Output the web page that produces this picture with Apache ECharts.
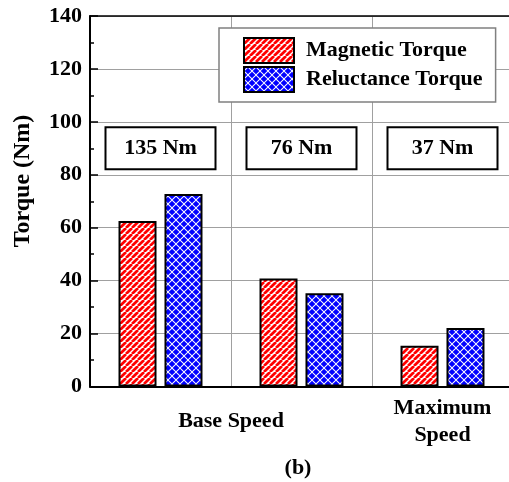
<!DOCTYPE html>
<html>
<head>
<meta charset="utf-8">
<script src="https://cdn.jsdelivr.net/npm/echarts@6/dist/echarts.min.js"></script>
<style>
html,body{margin:0;padding:0;background:#fff;}
#chart{width:509px;height:482px;}
</style>
</head>
<body>
<div id="chart"></div>
<script>
// ---- data ----
var categories = ['135 Nm', '76 Nm', '37 Nm'];
var magneticTorque = [62.5, 40.8, 15.4];
var reluctanceTorque = [72.7, 35.2, 22.1];
var seriesNames = ['Magnetic Torque', 'Reluctance Torque'];
var groupLabels = ['Base Speed', 'Maximum\nSpeed'];
var yTicks = [0, 20, 40, 60, 80, 100, 120, 140];
var axisTitle = 'Torque (Nm)';
var panelLabel = '(b)';

// ---- layout / styling ----
var FONT = 'Liberation Serif';
var groupSlotIndex = [2, 5]; // half-category slots on the label axis
var groupSlots = ['', '', '', '', '', '', ''];
groupLabels.forEach(function (g, i) { groupSlots[groupSlotIndex[i]] = g; });

function stripePattern() {
  var s = 6;
  var c = document.createElement('canvas');
  c.width = s; c.height = s;
  var ctx = c.getContext('2d');
  ctx.fillStyle = '#ffffff';
  ctx.fillRect(0, 0, s, s);
  ctx.strokeStyle = '#ff0000';
  ctx.lineWidth = 2.7;
  for (var k = -1; k <= 1; k++) {
    ctx.beginPath();
    ctx.moveTo(k * s, s);
    ctx.lineTo(k * s + s, 0);
    ctx.stroke();
  }
  return c;
}
function diamondPattern() {
  var s = 8, r = 3.3;
  var c = document.createElement('canvas');
  c.width = s; c.height = s;
  var ctx = c.getContext('2d');
  ctx.fillStyle = '#ffffff';
  ctx.fillRect(0, 0, s, s);
  ctx.fillStyle = '#0000ff';
  var centers = [[s / 2, s / 2], [0, 0], [s, 0], [0, s], [s, s]];
  centers.forEach(function (p) {
    ctx.beginPath();
    ctx.moveTo(p[0], p[1] - r);
    ctx.lineTo(p[0] + r, p[1]);
    ctx.lineTo(p[0], p[1] + r);
    ctx.lineTo(p[0] - r, p[1]);
    ctx.closePath();
    ctx.fill();
  });
  return c;
}

var chart = echarts.init(document.getElementById('chart'), null, {renderer: 'canvas'});

var option = {
  animation: false,
  backgroundColor: '#fff',
  grid: {left: 90, top: 16, width: 423, height: 370.5, outerBoundsMode: 'none', containLabel: false},
  legend: {
    data: seriesNames,
    orient: 'vertical',
    left: 219, top: 28,
    icon: 'rect',
    itemWidth: 50, itemHeight: 25, itemGap: 2,
    padding: [9, 13, 9, 24],
    backgroundColor: '#fff',
    borderColor: '#808080', borderWidth: 1.5, borderRadius: 0,
    textStyle: {fontFamily: FONT, fontWeight: 'bold', fontSize: 22, color: '#000', padding: [0, 0, 0, 7]},
    selectedMode: false
  },
  xAxis: [
    {
      type: 'category', data: categories, position: 'bottom',
      axisLine: {show: true, lineStyle: {color: '#000', width: 2}},
      axisTick: {show: false},
      axisLabel: {show: false},
      splitLine: {show: true, lineStyle: {color: '#a0a0a0', width: 1}}
    },
    {
      type: 'category', data: groupSlots, position: 'bottom', boundaryGap: false,
      axisLine: {show: false}, axisTick: {show: false},
      axisLabel: {show: true, interval: 0, margin: 35, verticalAlign: 'middle', lineHeight: 27,
        hideOverlap: false,
        fontFamily: FONT, fontWeight: 'bold', fontSize: 22, color: '#000'},
      splitLine: {show: false}
    },
    {
      type: 'category', data: categories, position: 'top',
      axisLine: {show: true, onZero: false, lineStyle: {color: '#000', width: 1.5}},
      axisTick: {show: false}, axisLabel: {show: false}, splitLine: {show: false}
    }
  ],
  yAxis: {
    type: 'value', min: yTicks[0], max: yTicks[yTicks.length - 1], interval: yTicks[1] - yTicks[0],
    axisLine: {show: true, lineStyle: {color: '#000', width: 2}},
    axisTick: {show: true, inside: true, length: 8, lineStyle: {color: '#000', width: 1.5}},
    minorTick: {show: true, splitNumber: 2, length: 4, lineStyle: {color: '#000', width: 1.5}},
    axisLabel: {margin: 8, fontFamily: FONT, fontWeight: 'bold', fontSize: 22, color: '#000'},
    splitLine: {show: true, lineStyle: {color: '#a0a0a0', width: 1}}
  },
  series: [
    {
      name: seriesNames[0], type: 'bar', data: magneticTorque,
      barWidth: 38, barGap: '21%',
      itemStyle: {color: {image: stripePattern(), repeat: 'repeat'}, borderColor: '#000', borderWidth: 2}
    },
    {
      name: seriesNames[1], type: 'bar', data: reluctanceTorque,
      barWidth: 38, barGap: '21%',
      itemStyle: {color: {image: diamondPattern(), repeat: 'repeat'}, borderColor: '#000', borderWidth: 2}
    },
    {
      name: 'labels', type: 'scatter', symbolSize: 0, silent: true,
      itemStyle: {color: '#000', opacity: 1},
      data: categories.map(function (c) { return [c, 90]; }),
      z: 5,
      label: {
        show: true, position: 'inside',
        formatter: function (p) { return p.value[0]; },
        fontFamily: FONT, fontWeight: 'bold', fontSize: 22, color: '#000', opacity: 1,
        textBorderWidth: 0,
        backgroundColor: '#fff', borderColor: '#000', borderWidth: 2,
        width: 108, height: 40, lineHeight: 40, align: 'center', verticalAlign: 'middle'
      }
    }
  ],
  graphic: [
    {type: 'text', x: 23, y: 181, rotation: Math.PI / 2,
      style: {text: axisTitle, fontFamily: FONT, fontWeight: 'bold', fontSize: 24, fill: '#000',
        textAlign: 'center', textVerticalAlign: 'middle'}},
    {type: 'text', x: 298, y: 468,
      style: {text: panelLabel, fontFamily: FONT, fontWeight: 'bold', fontSize: 22, fill: '#000',
        textAlign: 'center', textVerticalAlign: 'middle'}}
  ]
};
chart.setOption(option);
</script>
</body>
</html>
